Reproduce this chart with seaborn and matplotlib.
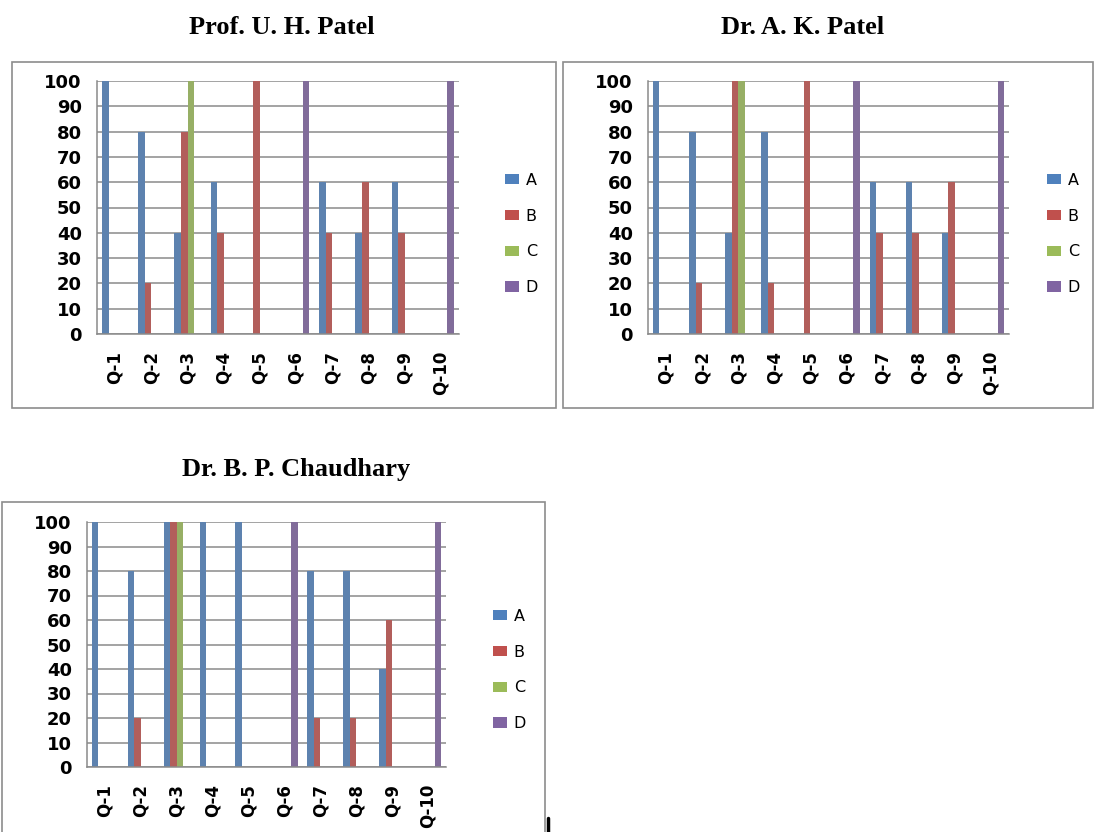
import numpy as np
import pandas as pd
import seaborn as sns
import matplotlib
import matplotlib.pyplot as plt
from matplotlib.patches import Patch, Rectangle
from matplotlib.lines import Line2D

matplotlib.use("Agg")

questions = ["Q-1", "Q-2", "Q-3", "Q-4", "Q-5", "Q-6", "Q-7", "Q-8", "Q-9", "Q-10"]
series = ["A", "B", "C", "D"]

# Prof. U. H. Patel
uh_a = [100, 80, 40, 60, 0, 0, 60, 40, 60, 0]
uh_b = [0, 20, 80, 40, 100, 0, 40, 60, 40, 0]
uh_c = [0, 0, 100, 0, 0, 0, 0, 0, 0, 0]
uh_d = [0, 0, 0, 0, 0, 100, 0, 0, 0, 100]

# Dr. A. K. Patel
ak_a = [100, 80, 40, 80, 0, 0, 60, 60, 40, 0]
ak_b = [0, 20, 100, 20, 100, 0, 40, 40, 60, 0]
ak_c = [0, 0, 100, 0, 0, 0, 0, 0, 0, 0]
ak_d = [0, 0, 0, 0, 0, 100, 0, 0, 0, 100]

# Dr. B. P. Chaudhary
bp_a = [100, 80, 100, 100, 100, 0, 80, 80, 40, 0]
bp_b = [0, 20, 100, 0, 0, 0, 20, 20, 60, 0]
bp_c = [0, 0, 100, 0, 0, 0, 0, 0, 0, 0]
bp_d = [0, 0, 0, 0, 0, 100, 0, 0, 0, 100]

titles = ["Prof. U. H. Patel", "Dr. A. K. Patel", "Dr. B. P. Chaudhary"]
colors = {"A": "#4F81BD", "B": "#C0504D", "C": "#9BBB59", "D": "#8064A2"}


def to_long(a, b, c, d):
    rows = []
    for name, vals in zip(series, [a, b, c, d]):
        for q, v in zip(questions, vals):
            rows.append({"Question": q, "Option": name, "Value": v})
    return pd.DataFrame(rows)


sns.set_style("white")
plt.rcParams["font.family"] = ["DejaVu Sans"]
plt.rcParams["text.color"] = "black"

fig = plt.figure(figsize=(10.94, 8.32), dpi=100)
W, H = 1094, 832


def px_rect(x0, y0, x1, y1):
    return [x0 / W, 1 - y1 / H, (x1 - x0) / W, (y1 - y0) / H]


# chart frames
for (x0, y0, x1, y1) in [(12, 62, 556, 408), (563, 62, 1093, 408), (2, 502, 545, 840)]:
    fig.patches.append(Rectangle((x0 / W, 1 - y1 / H), (x1 - x0) / W, (y1 - y0) / H,
                                 transform=fig.transFigure, fill=False,
                                 edgecolor="#8c8c8c", linewidth=1.2))

panels = [
    (to_long(uh_a, uh_b, uh_c, uh_d), px_rect(97, 81, 459, 334), (282, 27), (497, 234)),
    (to_long(ak_a, ak_b, ak_c, ak_d), px_rect(648, 81, 1009, 334), (803, 27), (1039, 234)),
    (to_long(bp_a, bp_b, bp_c, bp_d), px_rect(87, 522, 446, 767), (296, 469), (485, 670)),
]

for (df, rect, tpos, lpos), title in zip(panels, titles):
    ax = fig.add_axes(rect)
    sns.barplot(data=df, x="Question", y="Value", hue="Option", hue_order=series,
                order=questions, palette=colors, width=4 / 5.5, linewidth=0,
                legend=False, ax=ax)
    ax.set_xlim(-0.5, 9.5)
    ax.set_ylim(0, 100)
    ax.set_yticks(np.arange(0, 101, 10))
    ax.yaxis.grid(True, color="#8a8a8a", linewidth=1.1)
    ax.set_axisbelow(True)
    ax.set_xlabel("")
    ax.set_ylabel("")
    for s in ["top", "right"]:
        ax.spines[s].set_visible(False)
    for s in ["left", "bottom"]:
        ax.spines[s].set_color("#8a8a8a")
        ax.spines[s].set_linewidth(1.1)
    ax.set_xticks(np.arange(-0.5, 10, 1), minor=True)
    ax.tick_params(axis="x", which="major", length=0, pad=12, labelcolor="black")
    ax.tick_params(axis="x", which="minor", length=5, color="#8a8a8a", width=1.1)
    ax.tick_params(axis="y", length=4, color="#8a8a8a", width=1.1, pad=7,
                   labelcolor="black")
    ax.set_xticks(range(len(questions)))
    ax.set_xticklabels(questions, rotation=90, fontsize=12, fontweight="bold")
    for lab in ax.get_yticklabels():
        lab.set_fontweight("bold")
        lab.set_fontsize(13)

    fig.text(tpos[0] / W, 1 - tpos[1] / H, title, ha="center", va="center",
             fontsize=19, fontweight="bold", family="Liberation Serif", color="black")

    handles = [Patch(facecolor=colors[s], edgecolor="none") for s in series]
    fig.legend(handles, series, loc="center left",
               bbox_to_anchor=(lpos[0] / W, 1 - lpos[1] / H), frameon=False,
               fontsize=11.5, handlelength=0.85, handleheight=0.6, handletextpad=0.45,
               labelspacing=1.3, borderpad=0)

fig.add_artist(Line2D([548 / W, 548 / W], [0, 14 / H], color="black", linewidth=2.5,
                      transform=fig.transFigure))

fig.savefig("out.png", dpi=100)
